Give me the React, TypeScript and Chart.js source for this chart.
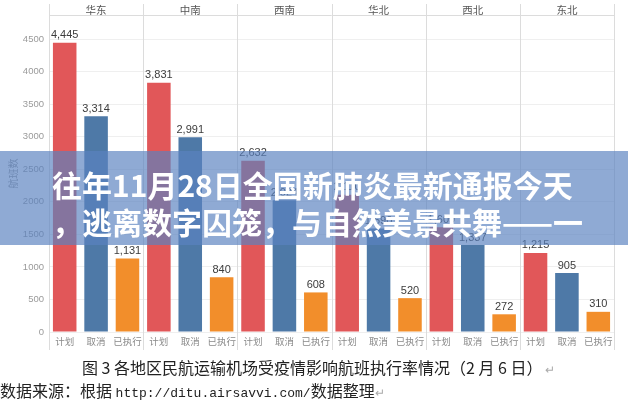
import React, { useEffect, useRef } from "react";
import { Chart, registerables } from "chart.js";

Chart.register(...registerables);

const regions = ["华东", "中南", "西南", "华北", "西北", "东北"];
const measures = ["计划", "取消", "已执行"];
const planned = [4445, 3831, 2632, 2110, 1609, 1215];
const cancelled = [3314, 2991, 2024, 1590, 1337, 905];
const executed = [1131, 840, 608, 520, 272, 310];
const yTicks = [0, 500, 1000, 1500, 2000, 2500, 3000, 3500, 4000, 4500];
const measureColors = ["#e15759", "#4e79a7", "#f28e2b"];
const yTitle = "航班数";
const headline1 = "往年11月28日全国新肺炎最新通报今天";
const headline2 = "，逃离数字囚笼，与自然美景共舞——一";
const caption1 = "图 3 各地区民航运输机场受疫情影响航班执行率情况（2 月 6 日）";
const caption2a = "数据来源：根据 ";
const caption2url = "http://ditu.airsavvi.com/";
const caption2b = "数据整理";

const labels: string[] = [];
const values: number[] = [];
const colors: string[] = [];
regions.forEach((_, r) => {
  const row = [planned[r], cancelled[r], executed[r]];
  measures.forEach((m, k) => {
    labels.push(m);
    values.push(row[k]);
    colors.push(measureColors[k]);
  });
});

const panelPlugin = {
  id: "panelLines",
  beforeDatasetsDraw(chart: any) {
    const { ctx, chartArea } = chart;
    const n = regions.length;
    const w = (chartArea.right - chartArea.left) / n;
    ctx.save();
    ctx.strokeStyle = "#dcdcdc";
    ctx.lineWidth = 1;
    for (let i = 0; i <= n; i++) {
      const x = Math.round(chartArea.left + i * w) + 0.5;
      ctx.beginPath();
      ctx.moveTo(x, 4);
      ctx.lineTo(x, chartArea.bottom + 18);
      ctx.stroke();
    }
    ctx.beginPath();
    ctx.moveTo(chartArea.left, Math.round(chartArea.top) + 0.5);
    ctx.lineTo(chartArea.right, Math.round(chartArea.top) + 0.5);
    ctx.stroke();
    ctx.restore();
  },
};

const valueLabelPlugin = {
  id: "valueLabels",
  afterDatasetsDraw(chart: any) {
    const { ctx } = chart;
    const meta = chart.getDatasetMeta(0);
    const data = chart.data.datasets[0].data;
    ctx.save();
    ctx.font = "11px 'Liberation Sans', Arial, sans-serif";
    ctx.fillStyle = "#3c3c3c";
    ctx.textAlign = "center";
    ctx.textBaseline = "bottom";
    meta.data.forEach((el: any, i: number) => {
      ctx.fillText(Number(data[i]).toLocaleString("en-US"), el.x, el.y - 2);
    });
    ctx.restore();
  },
};

export default function App() {
  const ref = useRef<HTMLCanvasElement | null>(null);

  useEffect(() => {
    if (!ref.current) return;
    const chart = new Chart(ref.current, {
      type: "bar",
      data: {
        labels,
        datasets: [
          {
            data: values,
            backgroundColor: colors,
            borderWidth: 0,
            categoryPercentage: 1,
            barPercentage: 0.75,
          },
        ],
      },
      options: {
        responsive: false,
        animation: false,
        events: [],
        layout: { padding: { left: 0, right: 14, top: 0, bottom: 50 } },
        plugins: {
          legend: { display: false },
          tooltip: { enabled: false },
        },
        scales: {
          x: {
            position: "bottom",
            grid: { display: false, drawTicks: false },
            border: { display: false },
            ticks: {
              padding: 4,
              color: "#8a8a8a",
              font: { size: 9.5, family: "'Noto Sans CJK SC', sans-serif" },
              maxRotation: 0,
              autoSkip: false,
            },
            afterFit: (s: any) => {
              s.height = 18;
            },
          },
          x2: {
            type: "category",
            position: "top",
            labels: regions,
            offset: true,
            grid: { display: false, drawTicks: false },
            border: { display: false },
            ticks: {
              padding: -1,
              color: "#555555",
              font: { size: 10.5, family: "'Noto Sans CJK SC', sans-serif" },
              maxRotation: 0,
            },
            afterFit: (s: any) => {
              s.height = 15;
            },
          },
          y: {
            min: 0,
            max: 4870,
            grid: { color: "#efefef", drawTicks: false },
            border: { display: false },
            ticks: {
              padding: 5,
              color: "#9a9a9a",
              font: { size: 9.5, family: "'Liberation Sans', Arial, sans-serif" },
              callback: (v: any) => String(v),
            },
            afterBuildTicks: (s: any) => {
              s.ticks = yTicks.map((v) => ({ value: v }));
            },
            title: {
              display: true,
              text: yTitle,
              color: "#9a9a9a",
              font: { size: 10, family: "'Noto Sans CJK SC', sans-serif" },
              padding: { top: 7, bottom: 0 },
            },
            afterFit: (s: any) => {
              s.width = 49;
            },
          },
        },
      },
      plugins: [panelPlugin, valueLabelPlugin],
    });
    return () => chart.destroy();
  }, []);

  const cjk = "'Noto Sans CJK SC', sans-serif";

  return (
    <div
      style={{
        position: "fixed",
        left: 0,
        top: 0,
        width: 628,
        height: 400,
        background: "#ffffff",
        overflow: "hidden",
      }}
    >
      <canvas ref={ref} width={628} height={400} style={{ position: "absolute", left: 0, top: 0 }} />
      <div
        style={{
          position: "absolute",
          left: 0,
          top: 151,
          width: 628,
          height: 94,
          background: "rgba(90,130,192,0.68)",
        }}
      />
      <div
        style={{
          position: "absolute",
          left: 52,
          top: 166,
          whiteSpace: "nowrap",
          color: "#ffffff",
          fontFamily: cjk,
          fontWeight: 700,
          fontSize: 30,
          lineHeight: "37px",
        }}
      >
        <div>{headline1}</div>
        <div>{headline2}</div>
      </div>
      <div
        style={{
          position: "absolute",
          left: 82,
          top: 356,
          whiteSpace: "nowrap",
          color: "#222222",
          fontFamily: cjk,
          fontSize: 16,
          lineHeight: "22px",
        }}
      >
        {caption1}
        <span style={{ color: "#aaaaaa", fontSize: 12 }}> ↵</span>
      </div>
      <div
        style={{
          position: "absolute",
          left: 0,
          top: 379,
          whiteSpace: "nowrap",
          color: "#222222",
          fontFamily: cjk,
          fontSize: 16,
          lineHeight: "22px",
        }}
      >
        {caption2a}
        <span style={{ fontFamily: "'Liberation Mono', monospace", fontSize: 13 }}>{caption2url}</span>
        {caption2b}
        <span style={{ color: "#aaaaaa", fontSize: 12 }}>↵</span>
      </div>
    </div>
  );
}
